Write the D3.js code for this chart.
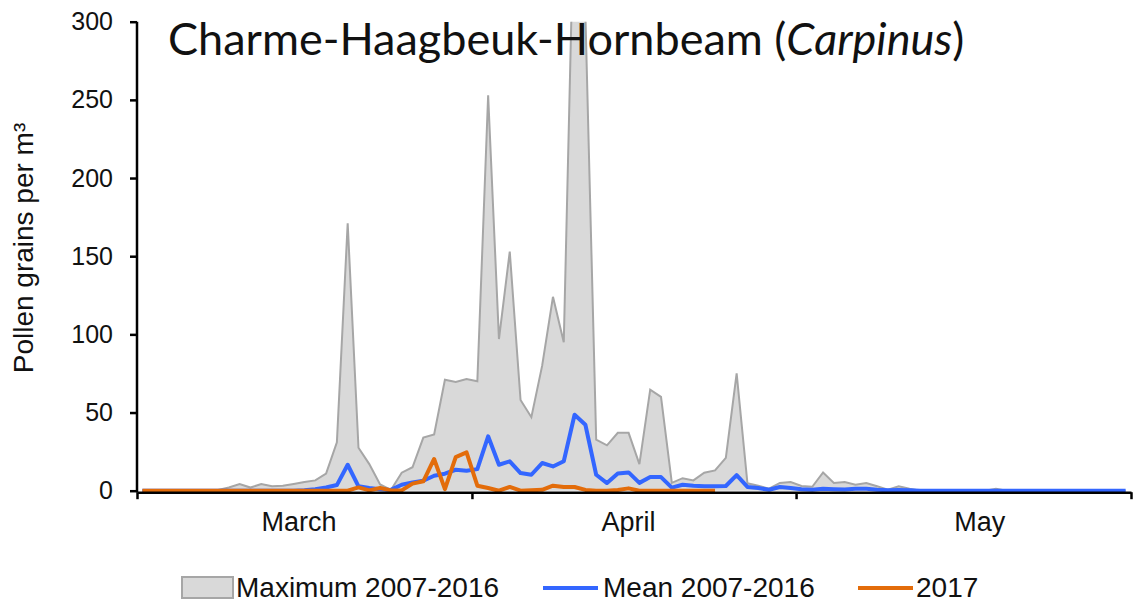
<!DOCTYPE html>
<html>
<head>
<meta charset="utf-8">
<script src="https://cdn.jsdelivr.net/npm/d3@7"></script>
<style>
  body { margin: 0; background: #fff; }
  svg { display: block; }
</style>
</head>
<body>
<svg width="1137" height="605"></svg>
<script>
// daily values, 1 March .. 31 May
var maxValues = [
    0, 0, 0, 0, 0, 0, 0, 0.5, 2, 4.3, 2, 4.3, 2.8, 3.2, 4.3, 5.5, 6.6, 11, 31, 171,
    27.5, 17, 4, 0.5, 11.5, 15, 34, 36, 71, 69.5, 71.5,
    70, 253, 97, 153, 58, 47, 80, 124, 95, 390, 305, 32.6, 29, 37, 37, 17, 64.6, 60, 5,
    8, 6.6, 11.5, 13, 21, 75, 4.7, 3.2, 1.3, 5, 5.6,
    3, 2.5, 11.7, 5, 5.5, 3.8, 4.9, 2.8, 0.6, 2.8, 1.2, 0, 0, 0, 0, 0, 0, 0, 1.2, 0,
    0, 0, 0, 0, 0, 0, 0, 0, 0, 0, 0
];
var meanValues = [
    0, 0, 0, 0, 0, 0, 0, 0, 0, 0, 0, 0, 0, 0, 0, 0.3, 1, 2, 3.6, 16.6,
    2.8, 1.7, 1, 0.5, 3.8, 5.3, 6.4, 9.6, 10.9, 13.4, 12.8,
    13.8, 34.8, 16.6, 18.8, 11.3, 10.2, 17.7, 15.5, 18.8, 48.6, 42.2, 10.2, 4.9, 11, 11.7, 5, 8.7, 8.7, 2,
    3.8, 3.2, 2.8, 2.8, 3, 10, 2.4, 1.7, 0.6, 2.4, 1.7,
    1, 0.6, 1.2, 1, 0.8, 1.2, 1.2, 0.6, 0.3, 0.5, 0.3, 0, 0, 0, 0, 0, 0, 0, 0, 0,
    0, 0, 0, 0, 0, 0, 0, 0, 0, 0, 0
];
var values2017 = [
    0, 0, 0, 0, 0, 0, 0, 0, 0, 0, 0, 0, 0, 0, 0, 0, 0, 0, 0, 0,
    2.1, 0.2, 1.7, 0.2, 0.2, 4.5, 6, 20.3, 1, 21.5, 24.5,
    3.2, 1.7, 0, 2.4, 0, 0.3, 0.6, 3.2, 2.4, 2.4, 0.5, 0, 0, 0.5, 1.5, 0, 0, 0, 0,
    0, 0, 0, 0
];
var yTicks = [0, 50, 100, 150, 200, 250, 300];
var monthNames = ['March', 'April', 'May'];
var monthLabelDay = [16, 15.5, 18];   // day of month under the label centre
var legendLabels = ['Maximum 2007-2016', 'Mean 2007-2016', '2017'];

var grey = '#d9d9d9', greyLine = '#a6a6a6', blue = '#3366ff', orange = '#e36c0a';

var dayMs = 864e5;
var start = Date.UTC(2017, 2, 1);
function dayDate(i) { return new Date(start + i * dayMs + dayMs / 2); }

var svg = d3.select('svg');

var x = d3.scaleUtc()
    .domain([new Date(start), new Date(Date.UTC(2017, 5, 1))])
    .range([137, 1131]);
var y = d3.scaleLinear().domain([0, 300]).range([490.7, 21.7]);

svg.append('clipPath').attr('id', 'plot')
    .append('rect').attr('x', 137).attr('y', y(300)).attr('width', 1000).attr('height', 500);

var plot = svg.append('g').attr('clip-path', 'url(#plot)');

// maximum as grey area
var maxData = maxValues.map(function(v, i) { return { date: dayDate(i), v: v }; });
plot.append('path')
    .datum(maxData)
    .attr('fill', grey)
    .attr('d', d3.area().x(function(d) { return x(d.date); }).y0(y(0)).y1(function(d) { return y(d.v); }));
plot.append('path')
    .datum(maxData)
    .attr('fill', 'none')
    .attr('stroke', greyLine)
    .attr('stroke-width', 2)
    .attr('d', d3.line().x(function(d) { return x(d.date); }).y(function(d) { return y(d.v); }));

// axes
var yAxis = svg.append('g')
    .attr('transform', 'translate(137,0)')
    .call(d3.axisLeft(y).tickValues(yTicks).tickSize(7).tickSizeOuter(0).tickPadding(17));
yAxis.select('.domain').attr('stroke-width', 2.5).attr('d', 'M0,' + y(300) + 'V' + (y(0) + 1.5));
yAxis.selectAll('.tick line').attr('stroke-width', 2.5);
yAxis.selectAll('text')
    .attr('font-family', '"Liberation Sans", Arial, sans-serif')
    .attr('font-size', 25).attr('fill', '#111');

var xAxis = svg.append('g')
    .attr('transform', 'translate(0,' + (y(0) + 1.5) + ')')
    .call(d3.axisBottom(x).ticks(d3.utcMonth.every(1)).tickSize(7).tickSizeOuter(0).tickFormat(''));
xAxis.select('.domain').attr('stroke-width', 2.5);
xAxis.selectAll('.tick line').attr('stroke-width', 2.5);

svg.selectAll('text.month')
    .data(monthNames).enter().append('text')
    .attr('class', 'month')
    .attr('x', function(d, i) { return x(new Date(Date.UTC(2017, 2 + i, 1) + (monthLabelDay[i] - 1) * dayMs)); })
    .attr('y', 531)
    .attr('text-anchor', 'middle')
    .attr('font-family', '"Liberation Sans", Arial, sans-serif')
    .attr('font-size', 27).attr('fill', '#111')
    .text(function(d) { return d; });

// mean and 2017 lines
function series(vals) { return vals.map(function(v, i) { return { date: dayDate(i), v: v }; }); }
var line = d3.line().x(function(d) { return x(d.date); }).y(function(d) { return y(d.v); });

plot.append('path').datum(series(meanValues))
    .attr('fill', 'none').attr('stroke', blue).attr('stroke-width', 4)
    .attr('stroke-linejoin', 'round').attr('d', line);
plot.append('path').datum(series(values2017))
    .attr('fill', 'none').attr('stroke', orange).attr('stroke-width', 4)
    .attr('stroke-linejoin', 'round').attr('d', line);

// y title
svg.append('text')
    .attr('transform', 'translate(33,248)rotate(-90)')
    .attr('text-anchor', 'middle')
    .attr('font-family', '"Liberation Sans", Arial, sans-serif')
    .attr('font-size', 28).attr('fill', '#111')
    .text('Pollen grains per m³');

// title
var title = svg.append('text')
    .attr('x', 168).attr('y', 55)
    .attr('font-family', 'Lato, "Open Sans", sans-serif')
    .attr('font-size', 45).attr('fill', '#111');
title.append('tspan').text('Charme-Haagbeuk-Hornbeam (');
title.append('tspan').attr('font-style', 'italic').text('Carpinus');
title.append('tspan').text(')');

// legend
var lg = svg.append('g').attr('font-family', '"Liberation Sans", Arial, sans-serif')
    .attr('font-size', 28).attr('fill', '#111');
lg.append('rect').attr('x', 182).attr('y', 577).attr('width', 51).attr('height', 21)
    .attr('fill', grey).attr('stroke', greyLine).attr('stroke-width', 2);
lg.append('text').attr('x', 236).attr('y', 597).text(legendLabels[0]);
lg.append('line').attr('x1', 543).attr('x2', 598).attr('y1', 588).attr('y2', 588)
    .attr('stroke', blue).attr('stroke-width', 4);
lg.append('text').attr('x', 603).attr('y', 597).text(legendLabels[1]);
lg.append('line').attr('x1', 858).attr('x2', 913).attr('y1', 588).attr('y2', 588)
    .attr('stroke', orange).attr('stroke-width', 4);
lg.append('text').attr('x', 916).attr('y', 597).text(legendLabels[2]);
</script>
</body>
</html>
